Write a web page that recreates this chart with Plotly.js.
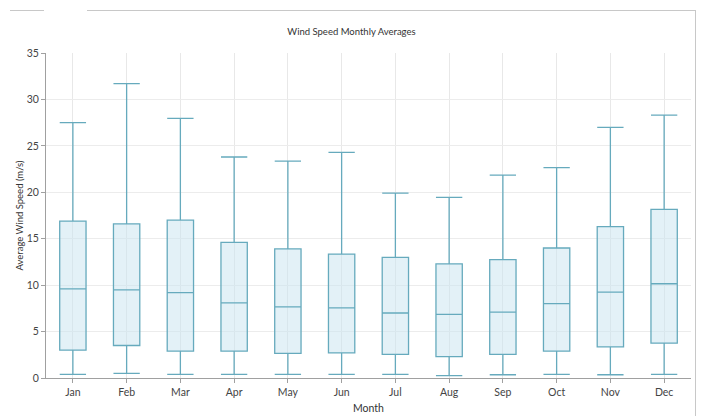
<!DOCTYPE html>
<html>
<head>
<meta charset="utf-8">
<script src="https://cdn.plot.ly/plotly-3.0.1.min.js"></script>
<style>
html,body{margin:0;padding:0;background:#fff;width:703px;height:416px;overflow:hidden;}
#chart{position:absolute;left:0;top:0;width:703px;height:416px;}
.fr{position:absolute;background:#c8c8c8;}
</style>
</head>
<body>
<div id="chart"></div>
<div class="fr" style="left:10px;top:10px;width:34px;height:1px;"></div>
<div class="fr" style="left:87px;top:10px;width:608px;height:1px;"></div>
<div class="fr" style="left:695px;top:10px;width:1px;height:406px;"></div>
<script>
var months = ["Jan","Feb","Mar","Apr","May","Jun","Jul","Aug","Sep","Oct","Nov","Dec"];
var lowerWhisker = [0.4, 0.5, 0.4, 0.4, 0.4, 0.4, 0.4, 0.25, 0.35, 0.4, 0.35, 0.4];
var q1Values     = [3.0, 3.5, 2.9, 2.9, 2.65, 2.7, 2.55, 2.3, 2.55, 2.9, 3.35, 3.75];
var medianValues = [9.6, 9.5, 9.2, 8.1, 7.65, 7.55, 7.0, 6.85, 7.1, 8.0, 9.25, 10.15];
var q3Values     = [16.9, 16.6, 17.0, 14.6, 13.9, 13.35, 13.0, 12.3, 12.75, 14.0, 16.3, 18.15];
var upperWhisker = [27.5, 31.7, 27.95, 23.8, 23.35, 24.3, 19.9, 19.45, 21.85, 22.65, 27.0, 28.3];

var trace = {
  type: "box",
  x: months,
  q1: q1Values,
  median: medianValues,
  q3: q3Values,
  lowerfence: lowerWhisker,
  upperfence: upperWhisker,
  boxpoints: false,
  whiskerwidth: 1,
  line: {color: "#66aabd", width: 1.3},
  fillcolor: "rgba(200,228,240,0.5)",
  showlegend: false,
  hoverinfo: "skip"
};

var font = "Lato, 'Open Sans', sans-serif";
var layout = {
  width: 703, height: 416,
  margin: {l: 46, r: 12, t: 53, b: 38, pad: 0},
  paper_bgcolor: "rgba(0,0,0,0)",
  plot_bgcolor: "rgba(0,0,0,0)",
  boxgap: 0.3,
  font: {family: font, size: 10.5, color: "#444"},
  title: {text: "Wind Speed Monthly Averages", x: 0.5, xref: "container", y: 1, yref: "container", yanchor: "top", pad: {t: 28}, font: {family: font, size: 9.5, color: "#333"}},
  xaxis: {
    type: "category",
    categoryorder: "array",
    categoryarray: months,
    range: [-0.5, 11.5],
    showgrid: true, gridcolor: "#e8e8e8", gridwidth: 1,
    showline: true, linecolor: "#a0a0a0", linewidth: 1,
    ticks: "outside", ticklen: 4, tickcolor: "#a0a0a0",
    tickfont: {family: font, size: 10.5, color: "#444"},
    title: {text: "Month", font: {family: font, size: 10.5, color: "#333"}, standoff: 8},
    zeroline: false, fixedrange: true
  },
  yaxis: {
    range: [0, 35],
    dtick: 5, tick0: 0,
    showgrid: true, gridcolor: "#ececec", gridwidth: 1,
    showline: true, linecolor: "#a0a0a0", linewidth: 1,
    ticks: "outside", ticklen: 4, tickcolor: "#a0a0a0",
    tickfont: {family: font, size: 10.5, color: "#444"},
    title: {text: "Average Wind Speed (m/s)", font: {family: font, size: 9.5, color: "#333"}, standoff: 1},
    zeroline: false, fixedrange: true
  }
};

Plotly.newPlot("chart", [trace], layout, {displayModeBar: false, staticPlot: true});
</script>
</body>
</html>
